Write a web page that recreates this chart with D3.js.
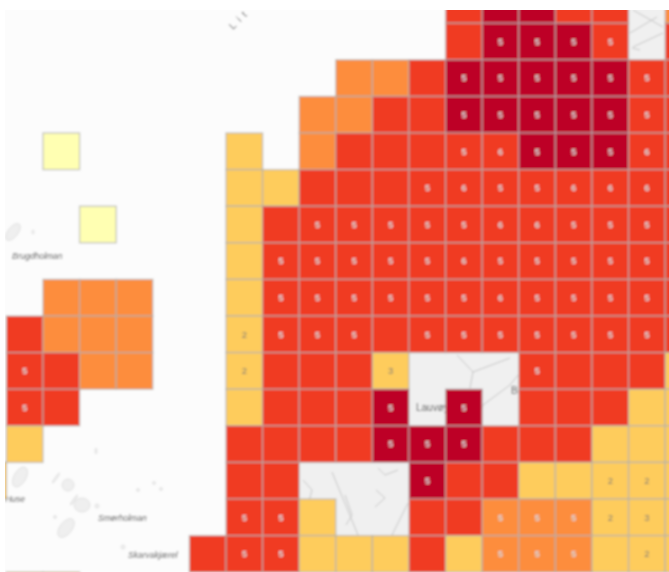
<!DOCTYPE html>
<html><head><meta charset="utf-8">
<script src="https://cdn.jsdelivr.net/npm/d3@7"></script>
<style>html,body{margin:0;padding:0;background:#fff;overflow:hidden}svg{display:block}</style>
</head><body><svg id="c" width="669" height="572"></svg>
<script>
// One character per column (-1..18). '.' = no cell; 0..4 = colour class.
const classRows = [
  ".............34433.2",
  ".............34443.3",
  "..........2234444433",
  ".........22334444433",
  "..0....1.23333344433",
  ".......1133333333333",
  "...0...1333333333333",
  ".......1333333333333",
  "..222..1333333333333",
  ".3222..1333333333333",
  ".3322..13331...33331",
  ".33....13334.4.33311",
  ".1.....3333444333111",
  "1......33...43311111",
  ".......331..33222111",
  "......33311131222111",
  ".11................."
];
// Digit shown in each cell, same layout as classRows
const labelRows = [
  "....................",
  "..............5555..",
  ".............555555.",
  ".............555555.",
  ".............565556.",
  "............5655666.",
  ".........5555566555.",
  "........55555655555.",
  "........55555565555.",
  ".......2555.5555555.",
  ".5.....2...3...5....",
  ".5.........5.5......",
  "...........555......",
  "............5....22.",
  ".......55.....55523.",
  ".......55.....555.2.",
  "...................."
];
const classColors = ["#ffffb2", "#fecc5c", "#fd8d3c", "#f03b20", "#bd0026"];
const landCells = [[17,0],[17,1],[11,10],[12,10],[13,10],[11,11],[12,11],[13,11],[8,13],[9,13],[10,13],[8,14],[9,14],[10,14]];
const placeNames = [
  {t:"Brugdholman", x:12, y:259, a:"start"},
  {t:"Huse", x:25, y:502, a:"end"},
  {t:"Smørholman", x:98, y:521, a:"start"},
  {t:"Skarvakjærel", x:128, y:558, a:"start"},
  {t:"Lauvøya", x:416, y:411, a:"start"},
  {t:"Bø", x:511, y:394, a:"start"}
];
const islands = [[13,232,10,5,-52],[20,477,11,6,-60],[68,485,6,6,0],[82,505,8,7,0],[66,528,11,6,-52],
  [33,232,1,2,0],[97,506,2,2,0],[55,517,1.5,1.5,0],[138,490,1.5,1.5,0],[154,483,1.5,1.5,0],[161,489,1.5,1.5,0],
  [123,547,2,2,0],[96,451,1,3,0],[56,478,1,6,35],[74,500,1,6,35]];
const roads = [
  [[332,472],[358,535]], [[408,503],[392,535]], [[303,480],[312,490],[308,505]],
  [[378,468],[385,475],[398,470]], [[375,507],[385,498],[376,490]], [[345,495],[352,515],[346,525]],
  [[457,355],[473,372],[470,388]], [[473,372],[510,358]], [[518,375],[510,385],[483,405],[477,425]],
  [[630,33],[657,17]], [[633,47],[663,33]], [[633,10],[663,27]], [[632,48],[640,50]]
];

const colDomain = d3.range(-1, 19), rowDomain = d3.range(0, 17);
const x = d3.scaleBand().domain(colDomain).range([-30.2, -30.2 + 20 * 36.6]);
const y = d3.scaleBand().domain(rowDomain).range([-13.4, -13.4 + 17 * 36.6]);
const color = d3.scaleOrdinal().domain([0,1,2,3,4]).range(classColors);
const cells = [], labels = [];
classRows.forEach((s, r) => [...s].forEach((ch, i) => {
  if (ch !== ".") cells.push({c: colDomain[i], r, k: +ch});
}));
labelRows.forEach((s, r) => [...s].forEach((ch, i) => {
  if (ch !== ".") {
    const cell = cells.find(d => d.c === colDomain[i] && d.r === r);
    labels.push({c: colDomain[i], r, t: ch, k: cell ? cell.k : 3});
  }
}));

const svg = d3.select("#c");
const defs = svg.append("defs");
defs.append("clipPath").attr("id", "clip").append("rect").attr("x", 5).attr("y", 10).attr("width", 664).attr("height", 562);
defs.append("filter").attr("id", "blur").attr("filterUnits", "userSpaceOnUse")
  .attr("x", -40).attr("y", -40).attr("width", 760).attr("height", 660)
  .append("feGaussianBlur").attr("stdDeviation", 1.0);
const root = svg.append("g").attr("clip-path", "url(#clip)").append("g").attr("filter", "url(#blur)");

root.append("rect").attr("x", -30).attr("y", -30).attr("width", 740).attr("height", 640).attr("fill", "#fcfcfc");
root.append("g").selectAll("rect").data(landCells).join("rect")
  .attr("x", d => x(d[0])).attr("y", d => y(d[1]))
  .attr("width", x.bandwidth() + 0.5).attr("height", y.bandwidth() + 0.5).attr("fill", "#f0f0f0");
root.append("g").selectAll("ellipse").data(islands).join("ellipse")
  .attr("transform", d => `translate(${d[0]},${d[1]}) rotate(${d[4]})`)
  .attr("rx", d => d[2]).attr("ry", d => d[3]).attr("fill", "#efefef").attr("stroke", "#dcdcdc").attr("stroke-width", 0.8);
const roadLine = d3.line();
root.append("g").selectAll("path").data(roads).join("path")
  .attr("d", roadLine).attr("fill", "none").attr("stroke", "#c4c4c4").attr("stroke-width", 1);
root.append("g").selectAll("text").data(placeNames).join("text")
  .attr("x", d => d.x).attr("y", d => d.y).attr("text-anchor", d => d.a)
  .attr("font-family", "Liberation Sans").attr("font-style", d => d.t === "Lauvøya" || d.t === "Bø" ? "normal" : "italic")
  .attr("font-size", d => d.t === "Lauvøya" || d.t === "Bø" ? 10 : 8.5).attr("fill", "#555").text(d => d.t);
root.append("text").attr("transform", "translate(233,30) rotate(-45)")
  .attr("font-family", "Liberation Sans").attr("font-size", 10).attr("letter-spacing", 5).attr("fill", "#666").text("Lit");

root.append("g").selectAll("rect").data(cells).join("rect")
  .attr("x", d => x(d.c)).attr("y", d => y(d.r))
  .attr("width", x.bandwidth()).attr("height", y.bandwidth())
  .attr("fill", d => color(d.k)).attr("stroke", "#b0b0b0").attr("stroke-opacity", 0.7).attr("stroke-width", 1.4);
root.append("g").selectAll("text").data(labels).join("text")
  .attr("x", d => x(d.c) + x.bandwidth() / 2).attr("y", d => y(d.r) + y.bandwidth() / 2 + 3.3)
  .attr("text-anchor", "middle").attr("font-family", "Liberation Sans").attr("font-size", 9.5)
  .attr("font-weight", d => d.k === 1 ? "normal" : "bold")
  .attr("fill", d => d.k === 1 ? "#777" : "#d6d6d6").text(d => d.t);
</script>
</body></html>
